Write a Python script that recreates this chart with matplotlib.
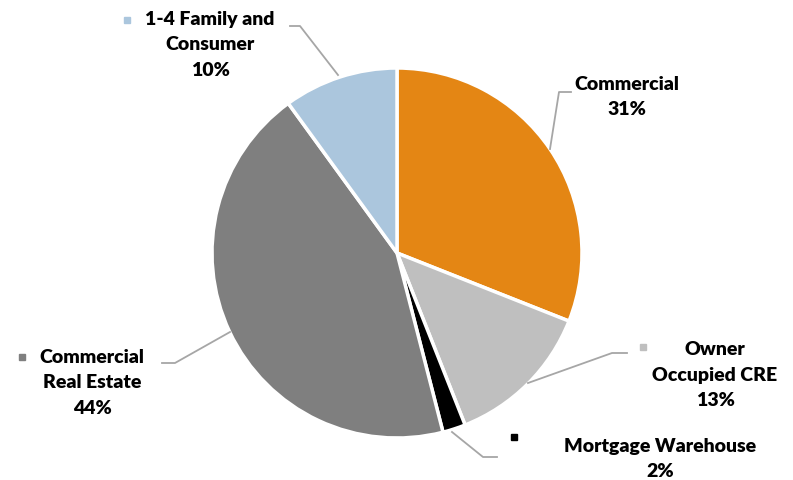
import matplotlib
matplotlib.use('Agg')
import matplotlib.pyplot as plt

plt.rcParams['font.family'] = ['Lato', 'DejaVu Sans']

# slices, clockwise from 12 o'clock
labels = ['Commercial', 'Owner\nOccupied CRE', 'Mortgage Warehouse',
          'Commercial\nReal Estate', '1-4 Family and\nConsumer']
shares = [31, 13, 2, 44, 10]
colors = ['#E48614', '#BFBFBF', '#000000', '#7F7F7F', '#ABC6DD']

W, H = 793, 480
def fy(y):
    # positions measured from the top of the picture
    return H - y

fig = plt.figure(figsize=(W / 100, H / 100), dpi=100)
ax = fig.add_axes([0, 0, 1, 1])

ax.pie(shares, colors=colors, startangle=90, counterclock=False,
       center=(397, fy(253)), radius=185,
       wedgeprops=dict(edgecolor='white', linewidth=2.5))

# label placement: text centre, marker, leader line (pixel coords from top)
layout = [
    dict(text=(627, 97), mark=None, line=[(571, 92), (559, 92), (550, 149)]),
    dict(text=(715, 375), mark=(643, 347), line=[(528, 383), (612, 353), (627, 353)]),
    dict(text=(660, 459), mark=(514, 437), line=[(452, 432), (483, 457), (497, 457)]),
    dict(text=(92, 383), mark=(22, 357), line=[(230, 332), (175, 363), (162, 363)]),
    dict(text=(210, 45), mark=(127, 20), line=[(290, 26), (300, 26), (338, 75)]),
]

for lab, val, col, lay in zip(labels, shares, colors, layout):
    tx, ty = lay['text']
    ax.text(tx, fy(ty), f'{lab}\n{val}%', ha='center', va='center',
            fontsize=14, fontweight='heavy', color='black', linespacing=1.6)
    if lay['mark'] is not None:
        mx, my = lay['mark']
        ax.plot(mx, fy(my), marker='s', markersize=5, color=col, linestyle='none')
    xs = [p[0] for p in lay['line']]
    ys = [fy(p[1]) for p in lay['line']]
    ax.plot(xs, ys, color='#A6A6A6', linewidth=1.3)

ax.set_xlim(0, W)
ax.set_ylim(0, H)
ax.set_aspect('equal')
ax.axis('off')

fig.savefig('out.png', dpi=100)
